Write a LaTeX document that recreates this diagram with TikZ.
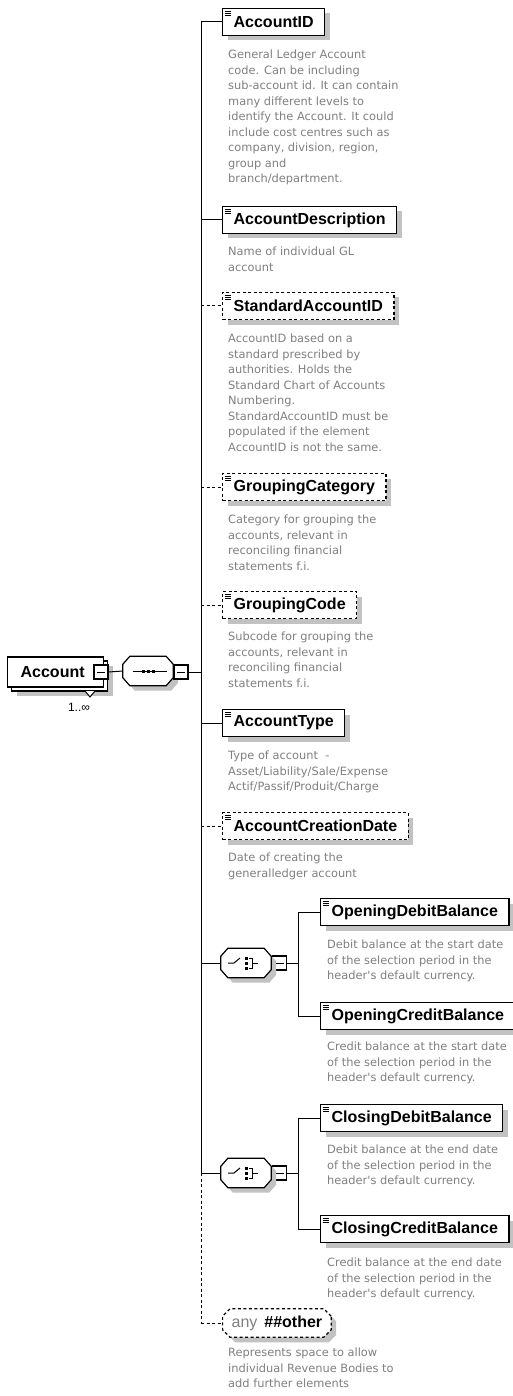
\documentclass[tikz,border=0pt]{standalone}
\usepackage{fontspec}
\setmainfont{Liberation Sans}
\newfontfamily\notefont{DejaVu Sans}
\usetikzlibrary{shapes.misc,shadows}
\definecolor{NoteGray}{rgb}{0.5,0.5,0.5}
\definecolor{ShadowGray}{rgb}{0.76,0.76,0.76}
\tikzset{
  conn/.style={line width=1pt},
  optconn/.style={line width=1pt, dash pattern=on 3pt off 2.5pt},
  grayshadow/.style={general shadow={fill=ShadowGray, shadow xshift=5pt, shadow yshift=-5pt}},
  elem/.style={draw, line width=1.3pt, fill=white, anchor=west, minimum height=27pt,
    inner xsep=11pt, inner ysep=0pt, font=\fontsize{16}{18}\selectfont\bfseries, grayshadow,
    path picture={\foreach \k in {2.5,4.5,6.5}
      \draw[solid, line width=0.7pt] ([xshift=2pt,yshift=-\k pt]path picture bounding box.north west) -- ++(6pt,0);}},
  optelem/.style={elem, dash pattern=on 3pt off 2.5pt},
  note/.style={anchor=north west, align=left, inner sep=0pt, text=NoteGray,
    font=\notefont\fontsize{11.4}{15.5}\selectfont},
  minusbox/.style={draw, line width=1.2pt, fill=white, minimum size=14pt, inner sep=0pt,
    path picture={\draw[line width=1pt] ([xshift=3pt]path picture bounding box.west) -- ([xshift=-3pt]path picture bounding box.east);}},
  compo/.style={minimum width=50pt, minimum height=29pt, inner sep=0pt},
  octo/.style={insert path={([xshift=7pt]#1.north west) -- ([xshift=-7pt]#1.north east)
    -- ([yshift=-8pt]#1.north east) -- ([yshift=8pt]#1.south east) -- ([xshift=-7pt]#1.south east)
    -- ([xshift=7pt]#1.south west) -- ([yshift=8pt]#1.south west) -- ([yshift=-8pt]#1.north west) -- cycle}}
}
\begin{document}
\begin{tikzpicture}[x=1pt,y=-1pt]
\fill[white] (0,0) rectangle (513,1396);
\useasboundingbox (0,0) rectangle (513,1396);

% root element and its sequence
\node[draw, line width=1.3pt, fill=white, anchor=west, minimum height=30pt, text width=70pt,
  inner xsep=13pt, align=left, font=\fontsize{16}{18}\selectfont\bfseries,
  general shadow={fill=ShadowGray, shadow xshift=9pt, shadow yshift=-9pt},
  preaction={draw, fill=white, line width=1.3pt, transform canvas={shift={(4pt,-4pt)}}}]
  (account) at (7,672) {Account};
\draw[line width=1pt, fill=white] (85,691) -- (90,697) -- (95,691);
\node[font=\fontsize{12}{14}\selectfont] (accountocc) at (79,707) {1..∞};
\node[minusbox] (accminus) at (101,672) {};
\node[compo] (seq) at (148,671) {};
\fill[ShadowGray, transform canvas={shift={(5pt,-5pt)}}, octo=seq];
\draw[line width=1.2pt, fill=white, octo=seq];
\begin{scope}[shift={(seq.center)}]
  \draw[line width=1pt] (-15,0) -- (19,0);
  \foreach \d in {-5,0,5} \fill (\d-1.5,-1.5) rectangle (\d+1.5,1.5);
\end{scope}
\node[minusbox] (seqminus) at (181,672) {};
\coordinate (trunk) at (201,0);
\draw[conn] (accminus.east) -- (seq.west);
\draw[conn] (seqminus.east) -- (seqminus.east -| trunk);

% children
\node[elem] (accid) at (222,22) {AccountID};
\node[note] (accidnote) at (228,50) {General Ledger Account\\code. Can be including\\sub-account id. It can contain\\many different levels to\\identify the Account. It could\\include cost centres such as\\company, division, region,\\group and\\branch/department.};
\node[elem] (accdesc) at (222,220) {AccountDescription};
\node[note] (accdescnote) at (228,247) {Name of individual GL\\account};
\node[optelem] (stdid) at (222,306) {StandardAccountID};
\node[note] (stdidnote) at (228,334) {AccountID based on a\\standard prescribed by\\authorities. Holds the\\Standard Chart of Accounts\\Numbering.\\StandardAccountID must be\\populated if the element\\AccountID is not the same.};
\node[optelem] (grpcat) at (222,487) {GroupingCategory};
\node[note] (grpcatnote) at (228,515) {Category for grouping the\\accounts, relevant in\\reconciling financial\\statements f.i.};
\node[optelem] (grpcode) at (222,605) {GroupingCode};
\node[note] (grpcodenote) at (228,632) {Subcode for grouping the\\accounts, relevant in\\reconciling financial\\statements f.i.};
\node[elem] (acctype) at (222,723) {AccountType};
\node[note] (acctypenote) at (228,751) {Type of account\ \ -\\Asset/Liability/Sale/Expense\\Actif/Passif/Produit/Charge};
\node[optelem] (credate) at (222,826) {AccountCreationDate};
\node[note] (credatenote) at (228,853) {Date of creating the\\generalledger account};

% opening balance choice
\node[compo] (choicea) at (246,963) {};
\node[minusbox] (choiceaminus) at (279.5,963) {};
\node[elem] (opdebit) at (320,912) {OpeningDebitBalance};
\node[note] (opdebitnote) at (327,940) {Debit balance at the start date\\of the selection period in the\\header's default currency.};
\node[elem] (opcredit) at (320,1016) {OpeningCreditBalance};
\node[note] (opcreditnote) at (327,1042) {Credit balance at the start date\\of the selection period in the\\header's default currency.};

% closing balance choice
\node[compo] (choiceb) at (246,1173) {};
\node[minusbox] (choicebminus) at (279.5,1173) {};
\node[elem] (cldebit) at (320,1118) {ClosingDebitBalance};
\node[note] (cldebitnote) at (327,1145) {Debit balance at the end date\\of the selection period in the\\header's default currency.};
\node[elem] (clcredit) at (320,1229) {ClosingCreditBalance};
\node[note] (clcreditnote) at (327,1258) {Credit balance at the end date\\of the selection period in the\\header's default currency.};

\foreach \c in {choicea,choiceb}{
  \fill[ShadowGray, transform canvas={shift={(5pt,-5pt)}}, octo=\c];
  \draw[line width=1.2pt, fill=white, octo=\c];
  \begin{scope}[shift={(\c.center)}]
    \draw[line width=1pt] (-18,0) -- (-12,0) -- (-6,-5);
    \foreach \d in {-5,0,5} \fill (-1.2,\d-1.2) rectangle (1.8,\d+1.8);
    \draw[line width=1pt] (3,-5) -- (6.5,-5) -- (6.5,5) -- (3,5);
    \draw[line width=1pt] (6.5,0) -- (12,0);
  \end{scope}
}

\node[chamfered rectangle, chamfered rectangle xsep=4pt, draw, line width=1.2pt,
  dash pattern=on 3pt off 2.5pt, fill=white, anchor=west, minimum height=28pt, inner xsep=5pt,
  font=\fontsize{16}{18}\selectfont\bfseries, grayshadow]
  (other) at (222,1323) {\textcolor{NoteGray}{\mdseries any}\hspace{7pt}\#\#other};
\node[note] (othernote) at (228,1348) {Represents space to allow\\individual Revenue Bodies to\\add further elements};

% trunk and branches
\draw[conn] (accid.west -| trunk) -- (choiceb.west -| trunk);
\draw[optconn] (choiceb.west -| trunk) -- (other.west -| trunk);
\foreach \e in {accid,accdesc,acctype,choicea,choiceb}
  \draw[conn] (\e.west -| trunk) -- (\e.west);
\foreach \e in {stdid,grpcat,grpcode,credate,other}
  \draw[optconn] (\e.west -| trunk) -- (\e.west);

\coordinate (subtrunk) at (298,0);
\draw[conn] (choiceaminus.east) -- (choiceaminus.east -| subtrunk);
\draw[conn] (opdebit.west) -- (opdebit.west -| subtrunk) -- (opcredit.west -| subtrunk) -- (opcredit.west);
\draw[conn] (choicebminus.east) -- (choicebminus.east -| subtrunk);
\draw[conn] (cldebit.west) -- (cldebit.west -| subtrunk) -- (clcredit.west -| subtrunk) -- (clcredit.west);
\end{tikzpicture}
\end{document}
